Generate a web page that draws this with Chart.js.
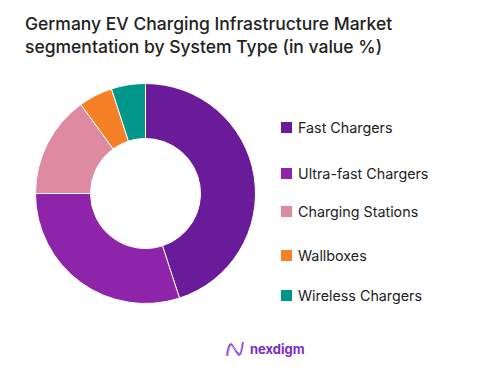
<!DOCTYPE html>
<html>
<head>
<meta charset="utf-8">
<script src="https://cdn.jsdelivr.net/npm/chart.js@4/dist/chart.umd.min.js"></script>
<style>
  body { margin: 0; background: #fff; width: 492px; height: 380px; position: relative; overflow: hidden; font-family: "Inter", sans-serif; }
  #title { position: absolute; left: 25px; top: 12px; font-size: 17.5px; font-weight: 500; color: #222; line-height: 23px; }
  #wrap { position: absolute; left: 35px; top: 83px; width: 221px; height: 221px; }
  .leg { position: absolute; left: 281px; font-size: 14.3px; color: #222; display: flex; align-items: center; }
  .leg span.box { width: 11px; height: 11px; display: inline-block; margin-right: 6px; }
  #logo { position: absolute; left: 225px; top: 339px; display: flex; align-items: center; font-size: 13px; font-weight: 700; color: #7b2cbf; }
</style>
</head>
<body>
<div id="title">Germany EV Charging Infrastructure Market<br>segmentation by System Type (in value %)</div>
<div id="wrap"><canvas id="chart"></canvas></div>
<div id="legend"></div>
<div id="logo">
  <svg width="20" height="20" viewBox="0 0 20 20" style="margin-right:5px">
    <path d="M2 17 C3 8, 5 3, 7 6 L13 15 C15 18, 17 12, 18 3" fill="none" stroke="#8e44d8" stroke-width="1.8"/>
    <path d="M3 17 C4 9, 6 5, 8 8 L13 13 C15 16, 16 11, 17 4" fill="none" stroke="#c9a0f0" stroke-width="1"/>
  </svg>nexdigm
</div>
<script>
const labels = ["Fast Chargers", "Ultra-fast Chargers", "Charging Stations", "Wallboxes", "Wireless Chargers"];
const shares = [45, 30, 15, 5, 5];
const colors = ["#6a1b9a", "#8e24aa", "#de8ba1", "#f58025", "#00968a"];
const legendTops = [128, 174, 212, 256, 296];

const legendEl = document.getElementById("legend");
labels.forEach((l, i) => {
    const d = document.createElement("div");
    d.className = "leg";
    d.style.top = (legendTops[i] - 9) + "px";
    d.innerHTML = '<span class="box" style="background:' + colors[i] + '"></span>' + l;
    legendEl.appendChild(d);
});

new Chart(document.getElementById("chart"), {
    type: "doughnut",
    data: {
        labels: labels,
        datasets: [{
            data: shares,
            backgroundColor: colors,
            borderColor: "#ffffff",
            borderWidth: 1
        }]
    },
    options: {
        responsive: true,
        maintainAspectRatio: false,
        animation: false,
        cutout: "50%",
        layout: { padding: 0 },
        plugins: { legend: { display: false }, tooltip: { enabled: false } }
    }
});
</script>
</body>
</html>
